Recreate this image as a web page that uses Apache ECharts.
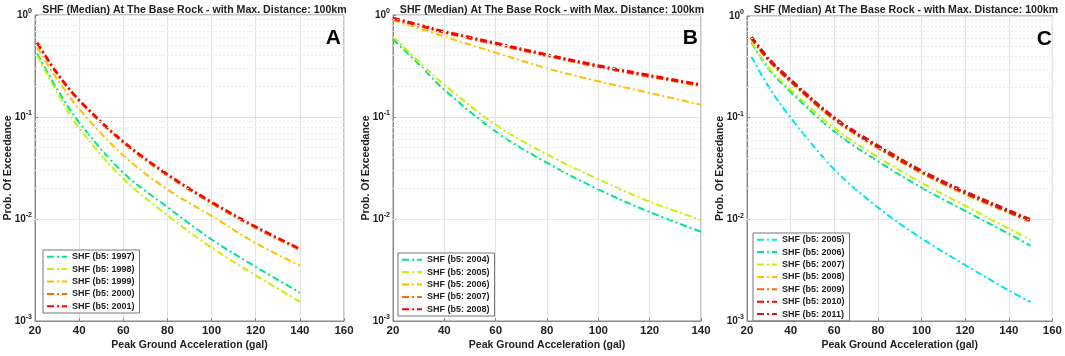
<!DOCTYPE html>
<html><head><meta charset="utf-8">
<script src="https://cdn.jsdelivr.net/npm/echarts@6/dist/echarts.min.js"></script>
<style>html,body{margin:0;padding:0;background:#fff}#c{width:1065px;height:356px}</style>
</head><body><div id="c"></div>
<script>
// ---------- DATA ----------
const titleText = 'SHF (Median) At The Base Rock - with Max. Distance: 100km';
const panelLetters = ['A', 'B', 'C'];

// Panel A
const xA = [21, 30, 40, 60, 80, 100, 120, 140];
const a1997 = [0.42, 0.188, 0.0887, 0.0284, 0.0131, 0.0063, 0.0034, 0.0019];
const a1998 = [0.40, 0.174, 0.078, 0.0248, 0.0109, 0.00525, 0.0028, 0.00155];
const a1999 = [0.48, 0.236, 0.12, 0.042, 0.0195, 0.0107, 0.0058, 0.0035];
const a2000 = [0.53, 0.265, 0.144, 0.056, 0.0268, 0.0143, 0.0082, 0.0050];
const a2001 = [0.537, 0.27, 0.147, 0.0575, 0.0275, 0.0147, 0.0084, 0.0051];

// Panel B
const xB = [20, 30, 40, 60, 80, 100, 120, 140];
const b2004 = [0.578, 0.33, 0.185, 0.072, 0.0355, 0.0195, 0.0117, 0.0075];
const b2005 = [0.614, 0.35, 0.207, 0.084, 0.043, 0.0245, 0.0148, 0.0098];
const b2006 = [0.89, 0.74, 0.614, 0.428, 0.30, 0.224, 0.172, 0.132];
const b2007 = [0.92, 0.79, 0.675, 0.52, 0.40, 0.312, 0.25, 0.203];
const b2008 = [0.93, 0.80, 0.687, 0.53, 0.407, 0.318, 0.255, 0.207];

// Panel C
const xC = [22, 30, 40, 60, 80, 100, 120, 140, 150];
const c2005 = [0.40, 0.20, 0.10, 0.031, 0.0131, 0.0065, 0.00355, 0.0020, 0.00153];
const c2006 = [0.55, 0.30, 0.179, 0.073, 0.0373, 0.0205, 0.0121, 0.0072, 0.0055];
const c2007 = [0.56, 0.31, 0.189, 0.079, 0.041, 0.0229, 0.0136, 0.0081, 0.0063];
const c2008 = [0.60, 0.365, 0.226, 0.096, 0.0505, 0.0287, 0.0178, 0.0117, 0.0095];
const c2009 = [0.61, 0.37, 0.229, 0.097, 0.051, 0.029, 0.018, 0.0118, 0.0096];
const c2010 = [0.615, 0.375, 0.232, 0.099, 0.052, 0.0296, 0.0184, 0.012, 0.0098];
const c2011 = [0.62, 0.38, 0.235, 0.10, 0.053, 0.030, 0.0187, 0.0122, 0.0099];

// ---------- STYLE ----------
const COL = {
  green: '#00e58a', ygreen: '#c9f000', amber: '#ffbf00', orange: '#ff6a00',
  red: '#ff0000', cyan: '#00e5ee', dred: '#d01818'
};
const FONT = '"Liberation Sans", Arial, sans-serif';
const TXT = '#222';
const DASH = [7, 3, 2, 3];

const panels = [
  { grid: { left: 35, top: 15, width: 309, height: 306 }, xmax: 160, x: xA,
    series: [['SHF (b5: 1997)', a1997, COL.green, 2], ['SHF (b5: 1998)', a1998, COL.ygreen, 2],
             ['SHF (b5: 1999)', a1999, COL.amber, 2], ['SHF (b5: 2000)', a2000, COL.orange, 2.5],
             ['SHF (b5: 2001)', a2001, COL.red, 2.5]],
    legend: { left: 43, top: 250 } },
  { grid: { left: 393, top: 15, width: 308, height: 306 }, xmax: 140, x: xB,
    series: [['SHF (b5: 2004)', b2004, COL.green, 2], ['SHF (b5: 2005)', b2005, COL.ygreen, 2],
             ['SHF (b5: 2006)', b2006, COL.amber, 2], ['SHF (b5: 2007)', b2007, COL.orange, 3],
             ['SHF (b5: 2008)', b2008, COL.red, 3]],
    legend: { left: 398, top: 253 } },
  { grid: { left: 747, top: 16, width: 308, height: 306 }, xmax: 160, x: xC,
    series: [['SHF (b5: 2005)', c2005, COL.cyan, 2], ['SHF (b5: 2006)', c2006, COL.green, 2],
             ['SHF (b5: 2007)', c2007, COL.ygreen, 2], ['SHF (b5: 2008)', c2008, COL.amber, 3],
             ['SHF (b5: 2009)', c2009, COL.orange, 3], ['SHF (b5: 2010)', c2010, COL.red, 3],
             ['SHF (b5: 2011)', c2011, COL.dred, 3]],
    legend: { left: 753, top: 233 } }
];

// minor grid positions of the log axis (2..9 x 10^k)
const minorVals = [];
for (let k = -3; k < 0; k++) for (let m = 2; m <= 9; m++) minorVals.push(+(m * Math.pow(10, k)).toPrecision(3));

const option = {
  animation: false,
  backgroundColor: '#fff',
  textStyle: { fontFamily: FONT },
  title: [], grid: [], xAxis: [], yAxis: [], series: [], legend: []
};

panels.forEach((p, i) => {
  const g = p.grid;
  option.grid.push(Object.assign({ show: true, borderColor: '#8a8a8a', borderWidth: 1 }, g));
  option.title.push({
    text: titleText, left: g.left + g.width / 2, top: 0, textAlign: 'center',
    textStyle: { fontFamily: FONT, fontSize: 10.6, fontWeight: 'bold', color: TXT }
  });
  option.title.push({
    text: panelLetters[i], left: g.left + g.width - 8, top: g.top + 8, textAlign: 'right',
    textStyle: { fontFamily: FONT, fontSize: 21, fontWeight: 'bold', color: '#000' }
  });
  option.xAxis.push({
    type: 'value', gridIndex: i, min: 20, max: p.xmax, interval: 20,
    name: 'Peak Ground Acceleration (gal)', nameLocation: 'middle', nameGap: 19,
    nameMoveOverlap: false,
    nameTextStyle: { fontFamily: FONT, fontSize: 10.5, fontWeight: 'bold', color: TXT },
    axisLine: { onZero: false, lineStyle: { color: '#8a8a8a' } },
    axisTick: { inside: true, length: 3, lineStyle: { color: '#8a8a8a' } },
    axisLabel: { fontFamily: FONT, fontSize: 11.5, fontWeight: 'bold', color: TXT, margin: 4 },
    splitLine: { show: true, lineStyle: { color: '#e3e3e3', width: 1 } }
  });
  option.yAxis.push({
    type: 'log', logBase: 10, gridIndex: i, min: 0.001, max: 1, splitNumber: 3,
    name: 'Prob. Of Exceedance', nameLocation: 'middle', nameGap: 21,
    nameMoveOverlap: false,
    nameTextStyle: { fontFamily: FONT, fontSize: 10.5, fontWeight: 'bold', color: TXT },
    axisLine: { lineStyle: { color: '#8a8a8a' } },
    axisTick: { inside: true, length: 3, lineStyle: { color: '#8a8a8a' } },
    axisLabel: {
      margin: 3, color: TXT,
      formatter: v => '{b|10}{s|' + Math.round(Math.log10(v)) + '}',
      rich: {
        b: { fontFamily: FONT, fontSize: 10, fontWeight: 'bold', color: TXT },
        s: { fontFamily: FONT, fontSize: 7, fontWeight: 'bold', color: TXT, padding: [0, 0, 7, 0] }
      }
    },
    splitLine: { show: true, lineStyle: { color: '#e3e3e3', width: 1 } }
  });
  // minor grid lines
  option.series.push({
    type: 'line', xAxisIndex: i, yAxisIndex: i, data: [], silent: true, z: 1,
    markLine: {
      silent: true, symbol: ['none', 'none'], label: { show: false }, animation: false,
      lineStyle: { color: '#ececec', type: [2, 2], width: 1 },
      data: minorVals.map(v => ({ yAxis: v }))
    }
  });
  const legendData = [];
  p.series.forEach(([name, vals, color, w]) => {
    option.series.push({
      name, type: 'line', xAxisIndex: i, yAxisIndex: i, smooth: 0.35,
      symbol: 'none', z: 3,
      lineStyle: { color, width: w, type: DASH },
      itemStyle: { color },
      data: p.x.map((x, k) => [x, vals[k]])
    });
    legendData.push({
      name, itemStyle: { color: 'rgba(0,0,0,0)', borderWidth: 0, opacity: 0 },
      lineStyle: { color, width: 2, type: DASH }
    });
  });
  option.legend.push({
    show: true, left: p.legend.left, top: p.legend.top, orient: 'vertical',
    data: legendData, itemWidth: 20, itemHeight: 8, itemGap: 3, itemSymbolKeepAspect: false,
    padding: [2, 5, 2, 3], backgroundColor: '#fff', borderColor: '#777', borderWidth: 1,
    textStyle: { fontFamily: FONT, fontSize: 9, lineHeight: 9.4, fontWeight: 'bold', color: TXT }
  });
});

const chart = echarts.init(document.getElementById('c'), null, { renderer: 'canvas' });
chart.setOption(option);
</script>
</body></html>
